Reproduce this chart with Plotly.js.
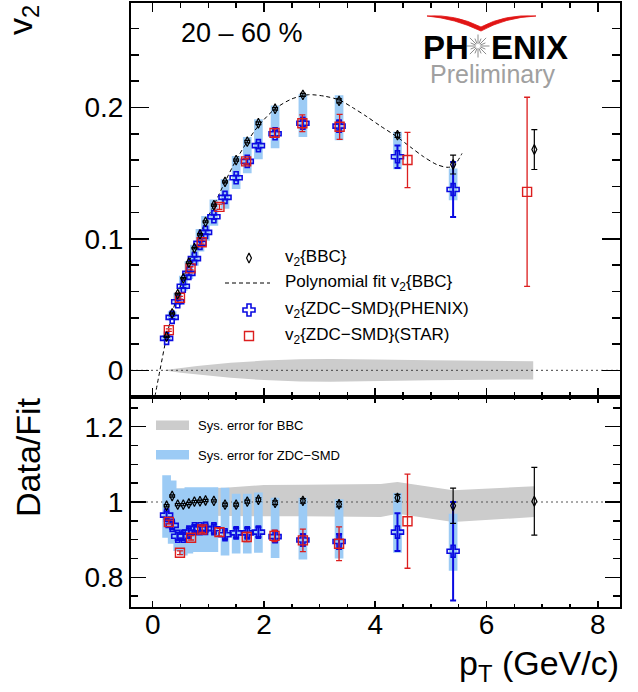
<!DOCTYPE html>
<html><head><meta charset="utf-8">
<script src="https://cdn.plot.ly/plotly-3.0.1.min.js"></script>
<style>html,body{margin:0;padding:0;background:#fff}#chart{width:638px;height:692px}</style>
</head><body><div id="chart"></div>
<script>
// ---------------- data ----------------
// v2{BBC}
const bbcPt  = [0.25,0.35,0.45,0.55,0.65,0.75,0.85,0.95,1.1,1.3,1.5,1.7,1.9,2.2,2.7,3.35,4.4,5.4,6.86];
const bbcV2  = [0.0256,0.0433,0.058,0.070,0.082,0.093,0.1035,0.113,0.1257,0.1434,0.160,0.174,0.188,0.199,0.2096,0.205,0.179,0.1566,0.168];
const bbcErr = [0.0005,0.0005,0.0005,0.0005,0.0006,0.0006,0.0006,0.0007,0.0007,0.0008,0.0008,0.0009,0.001,0.001,0.0012,0.0015,0.0018,0.0072,0.0152];
const bbcRatio    = [0.99,1.016,0.993,0.993,0.996,1.001,1.002,1.004,1.003,0.993,0.993,1.001,1.006,0.998,1.003,0.994,1.011,0.99,1.002];
const bbcRatioErr = [0.003,0.003,0.003,0.003,0.003,0.003,0.003,0.003,0.003,0.004,0.004,0.004,0.005,0.005,0.006,0.007,0.009,0.047,0.09];

// Polynomial fit v2{BBC}
const fitPt = [0.04,0.13,0.25,0.35,0.45,0.55,0.65,0.75,0.85,0.95,1.1,1.3,1.5,1.7,1.9,2.2,2.5,2.8,3.1,3.36,3.61,3.85,4.09,4.38,4.63,4.87,5.11,5.29,5.41,5.56];
const fitV2 = [-0.020,0.0,0.0256,0.0433,0.058,0.070,0.082,0.093,0.1035,0.113,0.1257,0.1434,0.160,0.174,0.186,0.199,0.2065,0.2097,0.2085,0.2056,0.1995,0.193,0.186,0.178,0.170,0.1625,0.1565,0.1545,0.1555,0.165];

// v2{ZDC-SMD}(PHENIX)
const phxPt  = [0.25,0.35,0.45,0.55,0.65,0.75,0.85,0.95,1.1,1.3,1.5,1.7,1.9,2.2,2.7,3.35,4.4,5.4];
const phxV2  = [0.0243,0.0403,0.0522,0.064,0.0738,0.085,0.0966,0.105,0.1168,0.1316,0.1465,0.159,0.171,0.180,0.188,0.1858,0.1625,0.1376];
const phxErr = [0.0012,0.0012,0.0013,0.0013,0.0014,0.0014,0.0015,0.0015,0.0016,0.0017,0.0018,0.002,0.0022,0.0025,0.003,0.004,0.0085,0.021];
const phxSysHi = [0.0268,0.0450,0.0590,0.0720,0.0830,0.0955,0.1075,0.1175,0.1300,0.1455,0.1630,0.1776,0.1910,0.2015,0.2101,0.2094,0.1815,0.1536];
const phxSysLo = [0.0228,0.0380,0.0500,0.0605,0.0695,0.0795,0.0905,0.0985,0.1100,0.1230,0.1380,0.1500,0.1607,0.1690,0.1776,0.1751,0.1530,0.1295];
const phxRatio    = [0.965,0.938,0.909,0.909,0.920,0.929,0.929,0.930,0.929,0.913,0.918,0.918,0.920,0.908,0.899,0.895,0.920,0.869];
const phxRatioErr = [0.01,0.01,0.01,0.01,0.01,0.01,0.01,0.01,0.012,0.012,0.013,0.013,0.013,0.014,0.015,0.02,0.05,0.131];
const phxRatioSysHi = [1.071,1.057,1.036,1.036,1.039,1.039,1.039,1.039,1.039,1.038,1.022,1.022,1.025,1.011,1.011,1.007,1.024,0.969];
const phxRatioSysLo = [0.905,0.889,0.870,0.858,0.863,0.867,0.867,0.867,0.867,0.858,0.863,0.863,0.865,0.851,0.847,0.850,0.865,0.817];

// v2{ZDC-SMD}(STAR)
const starPt  = [0.29,0.49,0.68,0.88,1.20,1.68,2.19,2.69,3.36,4.58,6.73];
const starV2  = [0.0306,0.0552,0.0776,0.0975,0.1244,0.159,0.1807,0.188,0.1853,0.160,0.1358];
const starErr = [0.001,0.001,0.0012,0.0015,0.002,0.002,0.003,0.0063,0.0095,0.021,0.072];
const starRatioPt  = [0.29,0.49,0.69,0.89,1.20,1.69,2.19,2.70,3.35,4.58];
const starRatio    = [0.947,0.865,0.905,0.927,0.920,0.907,0.910,0.898,0.889,0.949];
const starRatioErr = [0.005,0.005,0.006,0.008,0.01,0.012,0.015,0.03,0.045,0.125];

// Sys. error for BBC (upper: half-width around 0; lower: band around 1)
const bbcSysPt   = [0.19,0.5,0.8,1.4,2.0,2.65,3.2,4.0,5.0,6.84];
const bbcSysHalf = [0.0,0.0018,0.0033,0.0057,0.0074,0.0085,0.0087,0.0083,0.0076,0.0069];
const bbcBandPt = [0.25,0.43,1.3,2.0,2.7,3.35,4.1,4.4,5.4,6.86];
const bbcBandHi = [1.03,1.036,1.038,1.045,1.046,1.047,1.048,1.053,1.031,1.042];
const bbcBandLo = [0.97,0.964,0.962,0.962,0.962,0.962,0.960,0.969,0.947,0.960];

// axes / labels
const X_RANGE = [-0.39, 8.40];
const V2_RANGE = [-0.0203, 0.2795];
const RATIO_RANGE = [0.721, 1.279];
const centralityLabel = '20 \u2013 60 %';
const legendUpper = ['v<sub>2</sub>{BBC}','Polynomial fit v<sub>2</sub>{BBC}','v<sub>2</sub>{ZDC\u2212SMD}(PHENIX)','v<sub>2</sub>{ZDC\u2212SMD}(STAR)'];
const legendLower = ['Sys. error for BBC','Sys. error for ZDC\u2212SMD'];

// ---------------- styles / geometry ----------------
const W = 638, H = 692, L = 131, R = 620, T = 3, B = 607, SPLIT = 397;
const FONT = 'Liberation Sans, Arial, Helvetica, sans-serif';
const BLUE = 'rgb(10,10,225)', RED = 'rgb(220,30,30)', BOXBLUE = 'rgb(156,203,245)', GRAY = 'rgb(204,204,204)';
const BOX_HALF = 0.078;
const px = x => (x - L) / (R - L);
const py = y => (B - y) / (B - T);
const splitFrac = py(SPLIT);

function boxes(xs, lo, hi) {
  const X = [], Y = [];
  xs.forEach((x, i) => {
    X.push(x - BOX_HALF, x + BOX_HALF, x + BOX_HALF, x - BOX_HALF, x - BOX_HALF, null);
    Y.push(lo[i], lo[i], hi[i], hi[i], lo[i], null);
  });
  return {X, Y};
}
const upBoxes = boxes(phxPt, phxSysLo, phxSysHi);
const lowBoxes = boxes(phxPt, phxRatioSysLo, phxRatioSysHi);

const errStyle = (arr, color, th) => ({type: 'data', array: arr, visible: true, color: color, thickness: th, width: 3});
const diamond = {symbol: 'diamond-tall-open', size: 7, color: 'black', line: {color: 'black', width: 1.2}};
const cross = {symbol: 'cross-open', size: 10, color: BLUE, line: {color: BLUE, width: 1.6}};
const square = {symbol: 'square-open', size: 9, color: RED, line: {color: RED, width: 1.4}};

const traces = [
  // ---------- upper panel ----------
  {x: bbcSysPt.concat(bbcSysPt.slice().reverse()), y: bbcSysHalf.concat(bbcSysHalf.slice().reverse().map(v => -v)),
   xaxis: 'x2', yaxis: 'y2', type: 'scatter', mode: 'lines', fill: 'toself', fillcolor: GRAY, line: {width: 0}, hoverinfo: 'skip'},
  {x: X_RANGE, y: [0, 0], xaxis: 'x2', yaxis: 'y2', type: 'scatter', mode: 'lines', line: {color: '#444', width: 1, dash: '2px,3px'}},
  {x: upBoxes.X, y: upBoxes.Y, xaxis: 'x2', yaxis: 'y2', type: 'scatter', mode: 'lines', fill: 'toself', fillcolor: BOXBLUE, line: {width: 0}, connectgaps: false},
  {x: fitPt, y: fitV2, xaxis: 'x2', yaxis: 'y2', type: 'scatter', mode: 'lines', line: {color: 'black', width: 1, dash: '4px,3px', shape: 'spline', smoothing: 0.8}},
  {x: phxPt, y: phxV2, xaxis: 'x2', yaxis: 'y2', type: 'scatter', mode: 'markers', marker: cross, error_y: errStyle(phxErr, BLUE, 2)},
  {x: starPt, y: starV2, xaxis: 'x2', yaxis: 'y2', type: 'scatter', mode: 'markers', marker: square, error_y: errStyle(starErr, RED, 1.3)},
  {x: bbcPt, y: bbcV2, xaxis: 'x2', yaxis: 'y2', type: 'scatter', mode: 'markers', marker: diamond, error_y: errStyle(bbcErr, 'black', 1.2)},
  // ---------- lower panel ----------
  {x: bbcBandPt.concat(bbcBandPt.slice().reverse()), y: bbcBandHi.concat(bbcBandLo.slice().reverse()),
   xaxis: 'x', yaxis: 'y', type: 'scatter', mode: 'lines', fill: 'toself', fillcolor: GRAY, line: {width: 0}},
  {x: X_RANGE, y: [1, 1], xaxis: 'x', yaxis: 'y', type: 'scatter', mode: 'lines', line: {color: '#555', width: 1, dash: '2px,3px'}},
  {x: lowBoxes.X, y: lowBoxes.Y, xaxis: 'x', yaxis: 'y', type: 'scatter', mode: 'lines', fill: 'toself', fillcolor: BOXBLUE, line: {width: 0}, connectgaps: false},
  {x: phxPt, y: phxRatio, xaxis: 'x', yaxis: 'y', type: 'scatter', mode: 'markers', marker: cross, error_y: errStyle(phxRatioErr, BLUE, 2)},
  {x: starRatioPt, y: starRatio, xaxis: 'x', yaxis: 'y', type: 'scatter', mode: 'markers', marker: square, error_y: errStyle(starRatioErr, RED, 1.3)},
  {x: bbcPt, y: bbcRatio, xaxis: 'x', yaxis: 'y', type: 'scatter', mode: 'markers', marker: diamond, error_y: errStyle(bbcRatioErr, 'black', 1.2)},
  // ---------- legend samples (pixel-coordinate overlay axes) ----------
  {x: [249], y: [258], xaxis: 'x3', yaxis: 'y3', type: 'scatter', mode: 'markers', marker: diamond},
  {x: [225, 270], y: [283, 283], xaxis: 'x3', yaxis: 'y3', type: 'scatter', mode: 'lines', line: {color: 'black', width: 1, dash: '4px,3px'}},
  {x: [249], y: [310], xaxis: 'x3', yaxis: 'y3', type: 'scatter', mode: 'markers', marker: cross},
  {x: [249], y: [336], xaxis: 'x3', yaxis: 'y3', type: 'scatter', mode: 'markers', marker: square}
];

const axBase = {showline: true, linewidth: 2, linecolor: 'black', mirror: 'allticks', ticks: 'inside', tickcolor: 'black',
  tickwidth: 1.5, showgrid: false, zeroline: false, tickfont: {family: FONT, size: 28, color: 'black'}, fixedrange: true};

const annotations = [];
const ann = (text, x, y, o) => annotations.push(Object.assign({text, x: px(x), y: py(y), xref: 'paper', yref: 'paper', showarrow: false,
  font: {family: FONT, size: 18, color: 'black'}}, o || {}));

// axis titles
ann('v<sub>2</sub>', 22, 3, {textangle: -90, xanchor: 'center', yanchor: 'top', font: {family: FONT, size: 34, color: 'black'}});
ann('Data/Fit', 28, 395, {textangle: -90, xanchor: 'center', yanchor: 'top', font: {family: FONT, size: 34, color: 'black'}});
ann('p<sub>T</sub> (GeV/c)', 621, 666, {xanchor: 'right', yanchor: 'middle', font: {family: FONT, size: 34, color: 'black'}});
// centrality
ann(centralityLabel, 242, 33, {xanchor: 'center', yanchor: 'middle', font: {family: FONT, size: 27, color: 'black'}});
// logo text
ann('<b>PH</b>', 421, 47, {xanchor: 'left', yanchor: 'middle', font: {family: FONT, size: 33, color: 'black'}});
ann('<b>ENIX</b>', 489, 47, {xanchor: 'left', yanchor: 'middle', font: {family: FONT, size: 33, color: 'black'}});
ann('Preliminary', 493, 74, {xanchor: 'center', yanchor: 'middle', font: {family: FONT, size: 25, color: 'rgb(160,160,160)'}});
// legends
[258, 283, 310, 336].forEach((y, i) => ann(legendUpper[i], 283, y, {xanchor: 'left', yanchor: 'middle', font: {family: FONT, size: 17, color: 'black'}}));
[425.5, 455].forEach((y, i) => ann(legendLower[i], 196, y, {xanchor: 'left', yanchor: 'middle', font: {family: FONT, size: 13, color: 'black'}}));

const shapes = [];
const rectPx = (x0, y0, x1, y1, color) => shapes.push({type: 'rect', xref: 'paper', yref: 'paper', x0: px(x0), x1: px(x1), y0: py(y1), y1: py(y0), fillcolor: color, line: {width: 0}});
rectPx(156, 420.5, 189, 430, GRAY);
rectPx(156, 450, 189, 459.5, BOXBLUE);
// PHENIX star burst
const starC = [478, 46];
for (let k = 0; k < 16; k++) {
  const a = k * Math.PI / 8, r1 = 2.5, r2 = (k % 2 ? 8 : 11.5);
  shapes.push({type: 'line', xref: 'paper', yref: 'paper', x0: px(starC[0] + r1 * Math.cos(a)), y0: py(starC[1] + r1 * Math.sin(a)),
    x1: px(starC[0] + r2 * Math.cos(a)), y1: py(starC[1] + r2 * Math.sin(a)), line: {color: 'rgb(140,140,140)', width: 1}});
}
// red swoosh
const sw = [[427,16],[455,14],[481,27],[505,14],[536,16],[505,17.5],[481,31],[455,18.5]];
const P = p => px(p[0]).toFixed(4) + ',' + py(p[1]).toFixed(4);
shapes.push({type: 'path', xref: 'paper', yref: 'paper',
  path: 'M' + P(sw[0]) + ' Q' + P(sw[1]) + ' ' + P(sw[2]) + ' Q' + P(sw[3]) + ' ' + P(sw[4]) + ' Q' + P(sw[5]) + ' ' + P(sw[6]) + ' Q' + P(sw[7]) + ' ' + P(sw[0]) + ' Z',
  fillcolor: 'rgb(225,20,20)', line: {color: 'rgb(225,20,20)', width: 0.8}});

const layout = {
  width: W, height: H, paper_bgcolor: 'white', plot_bgcolor: 'rgba(0,0,0,0)', showlegend: false,
  margin: {l: L, r: W - R, t: T, b: H - B, pad: 0},
  font: {family: FONT, color: 'black'},
  xaxis: Object.assign({}, axBase, {domain: [0, 1], anchor: 'y', range: X_RANGE, tick0: 0, dtick: 2, ticklen: 6, ticklabelstandoff: -9,
    minor: {dtick: 0.5, tick0: 0, ticklen: 3, tickwidth: 1.5, tickcolor: 'black', ticks: 'inside'}}),
  yaxis: Object.assign({}, axBase, {domain: [0, splitFrac], anchor: 'x', range: RATIO_RANGE, tick0: 0, dtick: 0.2, ticklen: 15,
    minor: {dtick: 0.05, tick0: 0, ticklen: 7, tickwidth: 1.5, tickcolor: 'black', ticks: 'inside'}}),
  xaxis2: Object.assign({}, axBase, {domain: [0, 1], anchor: 'y2', range: X_RANGE, tick0: 0, dtick: 2, ticklen: 9, showticklabels: false,
    minor: {dtick: 0.5, tick0: 0, ticklen: 5, tickwidth: 1.5, tickcolor: 'black', ticks: 'inside'}}),
  yaxis2: Object.assign({}, axBase, {domain: [splitFrac, 1], anchor: 'x2', range: V2_RANGE, tick0: 0, dtick: 0.1, ticklen: 18,
    minor: {dtick: 0.02, tick0: 0, ticklen: 8, tickwidth: 1.5, tickcolor: 'black', ticks: 'inside'}}),
  xaxis3: {domain: [0, 1], anchor: 'y3', range: [L, R], visible: false, fixedrange: true},
  yaxis3: {domain: [0, 1], anchor: 'x3', range: [B, T], visible: false, fixedrange: true},
  annotations: annotations,
  shapes: shapes
};

Plotly.newPlot('chart', traces, layout, {staticPlot: true, displayModeBar: false});
</script></body></html>
